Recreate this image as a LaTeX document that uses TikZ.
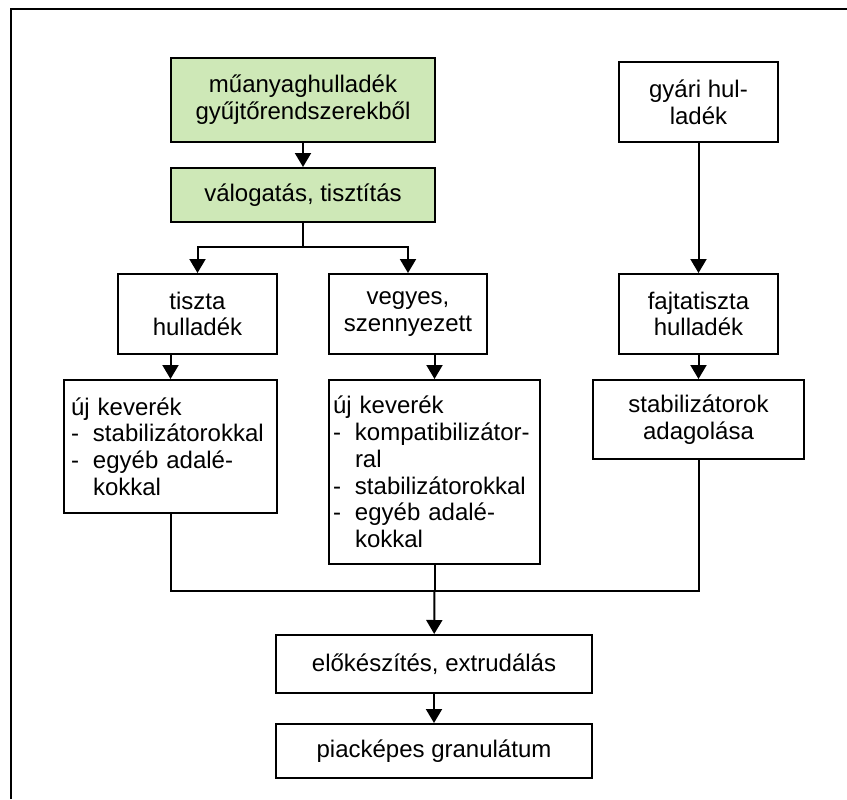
\documentclass[tikz,border=0pt]{standalone}
\usepackage{fontspec}
\setmainfont{Liberation Sans}
\usetikzlibrary{arrows.meta}
\definecolor{sortgreen}{RGB}{206,232,183}
\newcommand{\listdash}[1]{\makebox[11pt][l]{-}#1}
\newcommand{\listrest}[1]{\hspace*{11pt}#1}
\begin{document}
\begin{tikzpicture}[x=0.5pt, y=-0.5pt,
  every node/.style={font=\fontsize{12pt}{13.4pt}\selectfont},
  stepbox/.style={rectangle, draw=black, line width=1pt, fill=white, align=center, inner sep=2pt},
  greenbox/.style={stepbox, fill=sortgreen},
  listbox/.style={stepbox, align=left},
  flow/.style={line width=1pt},
  flowarrow/.style={flow, -{Triangle[width=8pt, length=7pt]}}]
\useasboundingbox (0,0) rectangle (847,799);
\draw[line width=1.3pt] (11,799) -- (11,9) -- (847,9);

\node[greenbox, minimum width=132pt, minimum height=42pt](feed) at (303,100){műanyaghulladék\\gyűjtőrendszerekből};
\node[greenbox, minimum width=132pt, minimum height=27pt](sort) at (303,195){válogatás, tisztítás};
\node[stepbox, minimum width=79.5pt, minimum height=40pt](factory) at (698.5,102){gyári hul-\\ladék};

\node[stepbox, minimum width=79.5pt, minimum height=40pt](clean) at (197.5,314){tiszta\\hulladék};
\node[stepbox, minimum width=79pt, minimum height=40pt](mixed) at (408,314){vegyes,\\szennyezett};
\node[stepbox, minimum width=79.5pt, minimum height=40pt](pure) at (698.5,314){fajtatiszta\\hulladék};

\node[listbox, inner xsep=3.5pt, text width=99.5pt, minimum height=66.5pt](mixA) at (170.5,446.5){új keverék\\\listdash{stabilizátorokkal}\\\listdash{egyéb adalé-}\\\listrest{kokkal}};
\node[listbox, inner xsep=2pt, text width=101.5pt, minimum height=92pt](mixB) at (434.5,472){új keverék\\\listdash{kompatibilizátor-}\\\listrest{ral}\\\listdash{stabilizátorokkal}\\\listdash{egyéb adalé-}\\\listrest{kokkal}};
\node[stepbox, minimum width=105.5pt, minimum height=39.5pt](stab) at (698.5,419.5){stabilizátorok\\adagolása};

\node[stepbox, minimum width=158pt, minimum height=29pt](prep) at (434,664){előkészítés, extrudálás};
\node[stepbox, minimum width=158pt, minimum height=27pt](gran) at (434,751){piacképes granulátum};

\coordinate(split) at (303,247);
\coordinate(merge) at (434.5,591);

\draw[flowarrow] (feed) -- (sort);
\draw[flow] (sort) -- (split);
\draw[flowarrow] (split) -| (clean.north);
\draw[flowarrow] (split) -| (mixed.north);
\draw[flowarrow] (factory) -- (pure);

\draw[flowarrow] (clean.south -| mixA.north) -- (mixA.north);
\draw[flowarrow] (mixed.south -| mixB.north) -- (mixB.north);
\draw[flowarrow] (pure) -- (stab);

\draw[flow] (mixA.south) |- (merge) -| (stab.south);
\draw[flow] (mixB) -- (merge);
\draw[flowarrow] (merge) -- (prep);
\draw[flowarrow] (prep) -- (gran);
\end{tikzpicture}
\end{document}
